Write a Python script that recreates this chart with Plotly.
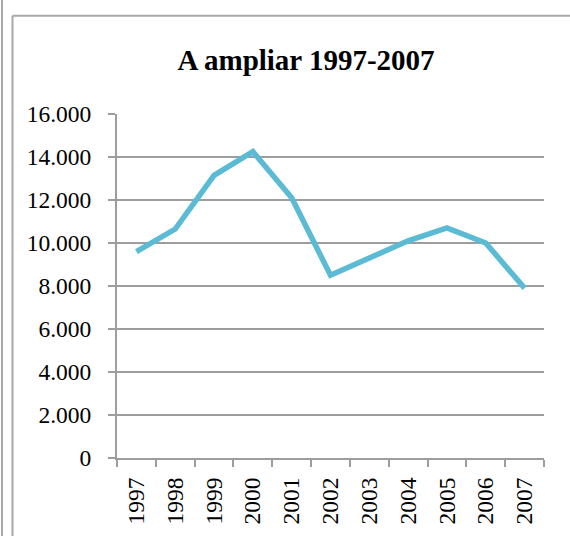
import plotly.graph_objects as go

# dados
anos = ['1997', '1998', '1999', '2000', '2001', '2002', '2003', '2004', '2005', '2006', '2007']
valores = [9600, 10650, 13150, 14250, 12100, 8500, 9300, 10100, 10700, 10000, 7900]
y_ticks = [0, 2000, 4000, 6000, 8000, 10000, 12000, 14000, 16000]

W, H = 570, 536
L, R, T, B = 117, 544, 114, 462  # area do grafico em px


def px_x(x):
    return (x - L) / (R - L)


def px_y(y):
    return (B - y) / (B - T)


cinza = '#9d9d9d'
fonte = 'Liberation Serif'

fig = go.Figure()

fig.add_trace(go.Scatter(
    x=anos,
    y=valores,
    mode='lines',
    line=dict(color='#5bbbd4', width=5.5),
    showlegend=False
))

# moldura do gráfico (recortada)
bordas = [
    (px_x(2), px_y(560), px_x(2), px_y(-10)),
    (px_x(12.5), px_y(560), px_x(12.5), px_y(14.5)),
    (px_x(12.5), px_y(14.5), px_x(600), px_y(14.5)),
]
shapes = []
for x0, y0, x1, y1 in bordas:
    shapes.append(dict(type='line', xref='paper', yref='paper',
                       x0=x0, y0=y0, x1=x1, y1=y1,
                       line=dict(color='#a8a8a8', width=2)))

fig.update_layout(
    width=W,
    height=H,
    margin=dict(l=L, r=W - R, t=T, b=H - B, pad=0),
    paper_bgcolor='white',
    plot_bgcolor='white',
    separators=',.',
    title=dict(text='<b>A ampliar 1997-2007</b>', x=306 / W, xanchor='center',
               y=1 - 60 / H, yanchor='middle',
               font=dict(family=fonte, size=29, color='black')),
    font=dict(family=fonte, color='black'),
    shapes=shapes,
    xaxis=dict(
        type='category',
        range=[-0.5, len(anos) - 0.5],
        showgrid=False,
        showline=True,
        linecolor=cinza,
        linewidth=2,
        ticks='outside',
        tickson='boundaries',
        ticklen=7,
        tickwidth=2,
        tickcolor=cinza,
        tickangle=-90,
        tickfont=dict(family=fonte, size=23.5, color='black'),
        ticklabelstandoff=8,
    ),
    yaxis=dict(
        range=[0, 16000],
        tickvals=y_ticks,
        tickformat=',d',
        showgrid=True,
        gridcolor=cinza,
        gridwidth=2,
        zeroline=False,
        showline=True,
        linecolor=cinza,
        linewidth=2,
        ticks='outside',
        ticklen=7,
        tickwidth=2,
        tickcolor=cinza,
        tickfont=dict(family=fonte, size=23.5, color='black'),
        ticklabelstandoff=12,
    ),
)

# tira a margem padrao do body para a figura ocupar a janela toda
fig.write_html('out.html', config={'displayModeBar': False},
               post_script="document.body.style.margin='0';")
